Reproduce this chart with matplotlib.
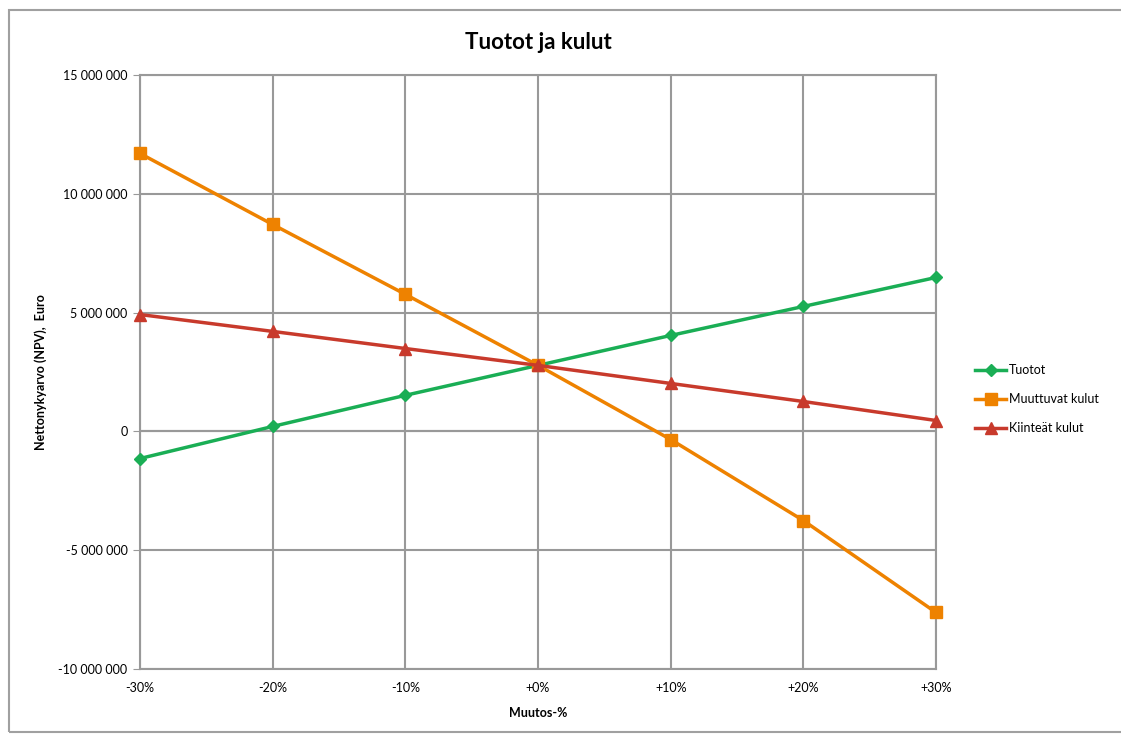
import matplotlib.pyplot as plt
from matplotlib.patches import Rectangle
from matplotlib.ticker import FuncFormatter

# Muutos-% categories
changes = [-30, -20, -10, 0, 10, 20, 30]
change_labels = ['-30%', '-20%', '-10%', '+0%', '+10%', '+20%', '+30%']

# NPV values (Euro)
tuotot = [-1140000, 210000, 1520000, 2780000, 4040000, 5260000, 6480000]
muuttuvat_kulut = [11700000, 8710000, 5770000, 2780000, -340000, -3750000, -7620000]
kiinteat_kulut = [4920000, 4210000, 3490000, 2780000, 2020000, 1260000, 460000]

plt.rcParams['font.family'] = ['Lato', 'DejaVu Sans']

fig = plt.figure(figsize=(11.21, 7.4), dpi=100)
ax = fig.add_axes([0.1249, 0.0959, 0.835 - 0.1249, 0.8986 - 0.0959])

# chart area frame
fig.patches.append(Rectangle((9 / 1121, 8 / 740), 1.2, 1 - 18 / 740,
                             transform=fig.transFigure, fill=False,
                             edgecolor='#a0a0a0', linewidth=1.5))

ax.plot(changes, tuotot, '-D', color='#1aae55', linewidth=2.5, markersize=6,
        label='Tuotot', clip_on=False, zorder=3)
ax.plot(changes, muuttuvat_kulut, '-s', color='#ee8200', linewidth=2.5, markersize=8,
        label='Muuttuvat kulut', clip_on=False, zorder=3)
ax.plot(changes, kiinteat_kulut, '-^', color='#c83a2c', linewidth=2.5, markersize=8,
        label='Kiinteät kulut', clip_on=False, zorder=3)

ax.set_xlim(-30, 30)
ax.set_ylim(-10000000, 15000000)
ax.set_xticks(changes)
ax.set_xticklabels(change_labels)
ax.set_yticks(range(-10000000, 15000001, 5000000))
ax.yaxis.set_major_formatter(FuncFormatter(lambda v, p: f'{int(v):,}'.replace(',', ' ')))

ax.grid(True, color='#999999', linewidth=1.5)
ax.axhline(0, color='#999999', linewidth=1.5)
ax.set_axisbelow(True)
for s in ax.spines.values():
    s.set_color('#999999')
    s.set_linewidth(1.5)
ax.tick_params(axis='y', length=5, color='#999999', labelsize=9, pad=4)
ax.tick_params(axis='x', length=0, labelsize=9, pad=9)

ax.set_title('Tuotot ja kulut', fontsize=16, fontweight='bold', pad=19)
ax.set_xlabel('Muutos-%', fontsize=9, fontweight='bold', labelpad=10)
ax.set_ylabel('Nettonykyarvo (NPV),  Euro', fontsize=9, fontweight='bold', labelpad=8)

ax.legend(loc='center left', bbox_to_anchor=(1.035, 0.4545), frameon=False, fontsize=9,
          handlelength=2.5, labelspacing=1.35, handletextpad=0.2)

fig.savefig('out.png', dpi=100)
